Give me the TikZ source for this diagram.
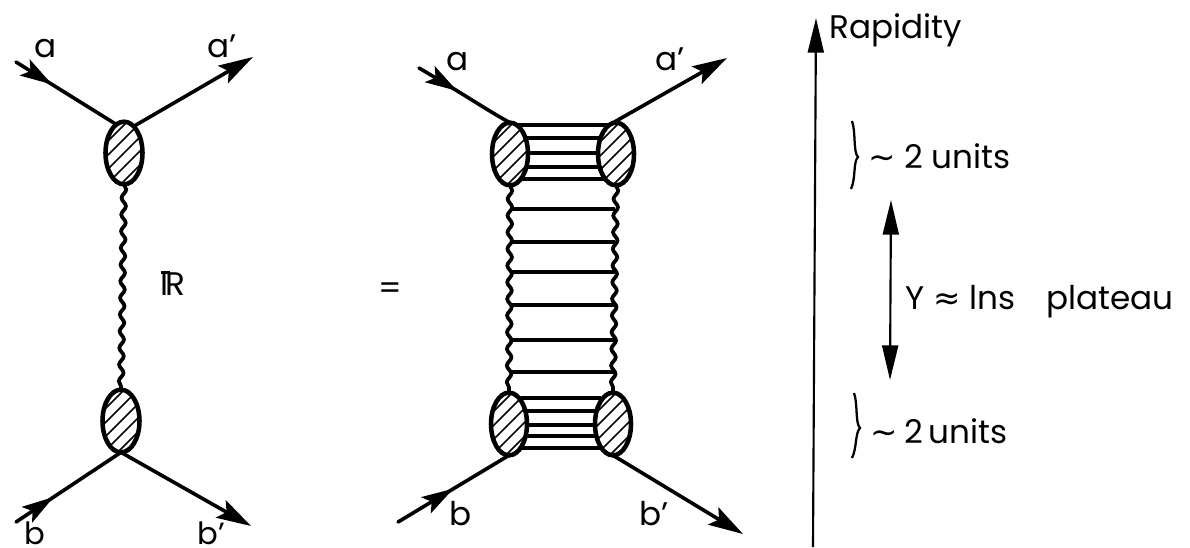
\documentclass[tikz,border=0pt]{standalone}
\usepackage{fontspec}
\setmainfont{Poppins}
\newfontfamily\symfont{DejaVu Sans}
\usetikzlibrary{shapes.geometric,decorations.pathmorphing,decorations.markings,arrows.meta}
\tikzset{
 x=0.75pt,y=-0.75pt,
 blob/.style={ellipse,draw=black,line width=3.4pt,minimum width=#1*0.75pt,minimum height=47pt,inner sep=0pt,outer sep=0pt,
  path picture={\foreach \k in {-5,...,5}{\draw[line width=1.3pt] ([xshift=\k*10.5pt]path picture bounding box.center)++(-30pt,-30pt)--++(60pt,60pt);}}},
 leg/.style={line width=2.7pt,line cap=round},
 inarrow/.style={leg,postaction={decorate},decoration={markings,mark=at position #1 with {\arrow{Stealth[length=24pt,width=14pt,inset=5pt]}}}},
 outarrow/.style={leg,-{Stealth[length=26pt,width=15pt,inset=5pt]}},
 wavy/.style={line width=2.8pt,decorate,decoration={snake,amplitude=1.7pt,segment length=12.5pt}},
 rung/.style={line width=2.9pt},
 thinrung/.style={line width=2.4pt},
 axis/.style={line width=1.6pt,-{Stealth[length=26pt,width=12pt,inset=0pt]}},
 dbl/.style={line width=1.6pt,{Stealth[length=26pt,width=12pt,inset=0pt]}-{Stealth[length=26pt,width=12pt,inset=0pt]}},
 lab/.style={inner sep=0pt,font=\fontsize{24.5pt}{28pt}\selectfont,anchor=base},
 smalllab/.style={inner sep=0pt,font=\fontsize{23pt}{26pt}\selectfont,anchor=base},
 brace/.style={line width=1.7pt},
}
\begin{document}
\begin{tikzpicture}
\useasboundingbox (0,0) rectangle (1190,547);
% left diagram
\node[blob=37] (A) at (124,153) {};
\node[blob=37] (B) at (121,421) {};
\coordinate (a1) at (16,62);
\coordinate (a2) at (253,57);
\coordinate (b1) at (16,522);
\coordinate (b2) at (251,526);
\draw[inarrow=0.36] (a1) -- (A.105);
\draw[outarrow] (A.70) -- (a2);
\draw[inarrow=0.36] (b1) -- (B.south);
\draw[outarrow] (B.south) -- (b2);
\draw[wavy] (A.south) -- (B.north);
% middle diagram
\node[blob=36] (TL) at (510,154) {};
\node[blob=36] (TR) at (616,154) {};
\node[blob=36] (BL) at (509,424) {};
\node[blob=36] (BR) at (613,424) {};
\coordinate (c1) at (419,68);
\coordinate (c2) at (727,58);
\coordinate (d1) at (398,522);
\coordinate (d2) at (743,534);
\draw[inarrow=0.42] (c1) .. controls (470,98) and (490,112) .. (TL.north);
\draw[outarrow] (TR.100) -- (c2);
\draw[inarrow=0.5] (d1) -- (BL.south);
\draw[outarrow] (BR.south) -- (d2);
\draw[wavy] (TL.south) -- (BL.north);
\draw[wavy] (TR.south) -- (BR.north);
\foreach \y/\dx in {125/8,138/16,153/18,167/16,179/12}
 \draw[rung] ([xshift=\dx*0.75pt]TL.center |- 0,\y) -- ([xshift=-\dx*0.75pt]TR.center |- 0,\y);
\foreach \y/\dx in {398/12,411/17,425/18,436/17,448/12}
 \draw[rung] ([xshift=\dx*0.75pt]BL.center |- 0,\y) -- ([xshift=-\dx*0.75pt]BR.center |- 0,\y);
\foreach \y in {209,242,272,305,340,372}
 \draw[thinrung] (510,\y) -- (615,\y);
% right side
\coordinate (ax0) at (813,547);
\coordinate (ax1) at (816,18);
\draw[axis] (ax0) -- (ax1);
\coordinate (y1) at (891,200);
\coordinate (y2) at (890,380);
\draw[dbl] (y2) -- (y1);
\coordinate (br1) at (852,121);
\coordinate (br2) at (851,189);
\coordinate (br3) at (858,157);
\draw[brace] (br1) .. controls (856,132) and (853,152) .. (br3) .. controls (853,162) and (856,178) .. (br2);
\coordinate (br4) at (854,393);
\coordinate (br5) at (852,458);
\coordinate (br6) at (860,428);
\draw[brace] (br4) .. controls (858,404) and (855,423) .. (br6) .. controls (855,433) and (857,448) .. (br5);
% labels
\node[lab] (la) at (46,57) {a};
\node[lab] (lap) at (222,57) {a'};
\node[smalllab] (lb) at (35,544) {b};
\node[smalllab] (lbp) at (211,544) {b'};
\node[lab] (lc) at (458,70) {a};
\node[lab] (lcp) at (670,70) {a'};
\node[lab] (ld) at (461,525) {b};
\node[lab] (ldp) at (654,525) {b'};
\node[lab] (eq) at (390,299) {=};
\node[lab] (pom) at (173,295) {\hbox{\rlap{\raisebox{0.64em}{\rule{0.3em}{0.08em}}}I\kern-0.09em R}};
\node[lab,anchor=base west] (rap) at (829,38) {Rapidity};
\node[lab,anchor=base west] (u1) at (868,168) {{\symfont\char"223C} 2 units};
\node[lab,anchor=base west] (u2) at (870,443) {{\symfont\char"223C}\kern-0.05em\ 2\kern-0.12em\ units};
\node[lab,anchor=base west] (yy) at (905,309) {Y {\symfont\char"2248} lns};
\node[lab,anchor=base west] (pl) at (1046,309) {plateau};
\end{tikzpicture}
\end{document}
